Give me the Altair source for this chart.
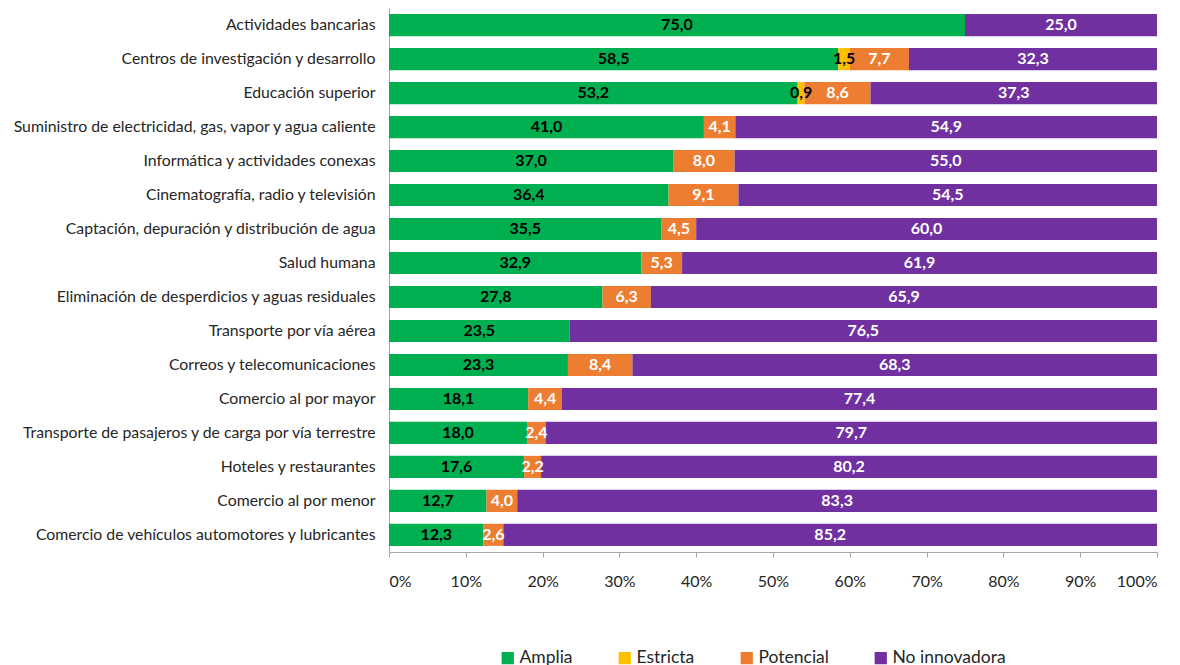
import altair as alt
import pandas as pd

categorias = [
    "Actividades bancarias",
    "Centros de investigación y desarrollo",
    "Educación superior",
    "Suministro de electricidad, gas, vapor y agua caliente",
    "Informática y actividades conexas",
    "Cinematografía, radio y televisión",
    "Captación, depuración y distribución de agua",
    "Salud humana",
    "Eliminación de desperdicios y aguas residuales",
    "Transporte por vía aérea",
    "Correos y telecomunicaciones",
    "Comercio al por mayor",
    "Transporte de pasajeros y de carga por vía terrestre",
    "Hoteles y restaurantes",
    "Comercio al por menor",
    "Comercio de vehículos automotores y lubricantes",
]
amplia = [75.0, 58.5, 53.2, 41.0, 37.0, 36.4, 35.5, 32.9, 27.8, 23.5, 23.3, 18.1, 18.0, 17.6, 12.7, 12.3]
estricta = [0.0, 1.5, 0.9, 0.0, 0.0, 0.0, 0.0, 0.0, 0.0, 0.0, 0.0, 0.0, 0.0, 0.0, 0.0, 0.0]
potencial = [0.0, 7.7, 8.6, 4.1, 8.0, 9.1, 4.5, 5.3, 6.3, 0.0, 8.4, 4.4, 2.4, 2.2, 4.0, 2.6]
no_innovadora = [25.0, 32.3, 37.3, 54.9, 55.0, 54.5, 60.0, 61.9, 65.9, 76.5, 68.3, 77.4, 79.7, 80.2, 83.3, 85.2]

series = ["Amplia", "Estricta", "Potencial", "No innovadora"]
colores = ["#00B050", "#FFC000", "#ED7D31", "#7030A0"]

rows = []
for s_idx, (name, vals) in enumerate(zip(series, [amplia, estricta, potencial, no_innovadora])):
    for c, v in zip(categorias, vals):
        rows.append({"cat": c, "serie": name, "value": v, "idx": s_idx})
df = pd.DataFrame(rows)

FONT = "Lato"

y_enc = alt.Y(
    "cat:N",
    sort=categorias,
    title=None,
    scale=alt.Scale(paddingInner=0.35, paddingOuter=0.18),
    axis=alt.Axis(
        ticks=False,
        domainColor="#A6A6A6",
        labelFont=FONT,
        labelFontSize=15.8,
        labelColor="#262626",
        labelPadding=14,
        labelLimit=420,
        minExtent=381,
        maxExtent=381,
    ),
)

bars = alt.Chart(df).mark_bar().encode(
    y=y_enc,
    x=alt.X(
        "value:Q",
        stack="normalize",
        title=None,
        scale=alt.Scale(domain=[0, 1]),
        axis=alt.Axis(
            format=".0%",
            values=[0, 0.1, 0.2, 0.3, 0.4, 0.5, 0.6, 0.7, 0.8, 0.9, 1.0],
            grid=False,
            domainColor="#A6A6A6",
            tickColor="#A6A6A6",
            tickSize=5,
            labelFont=FONT,
            labelFontSize=16,
            labelColor="#262626",
            labelPadding=16,
        ),
    ),
    color=alt.Color(
        "serie:N",
        scale=alt.Scale(domain=series, range=colores),
        sort=series,
        legend=alt.Legend(
            title=None,
            orient="none",
            direction="horizontal",
            legendX=110,
            legendY=641,
            symbolType="square",
            symbolSize=150,
            symbolStrokeWidth=0,
            labelOffset=3,
            labelFont=FONT,
            labelFontSize=17.5,
            labelColor="#262626",
            columnPadding=43,
        ),
    ),
    order=alt.Order("idx:Q"),
)

labels = (
    alt.Chart(df)
    .transform_filter("datum.value > 0")
    .transform_stack(
        stack="value",
        groupby=["cat"],
        as_=["v0", "v1"],
        offset="normalize",
        sort=[alt.SortField("idx", order="ascending")],
    )
    .transform_calculate(
        mid="(datum.v0 + datum.v1) / 2",
        lbl="replace(format(datum.value, '.1f'), '.', ',')",
        tc="datum.idx < 2 ? '#000000' : '#FFFFFF'",
    )
    .mark_text(font=FONT, fontSize=16, fontWeight="bold")
    .encode(
        y=alt.Y("cat:N", sort=categorias),
        x=alt.X("mid:Q"),
        text="lbl:N",
        color=alt.Color("tc:N", scale=None),
    )
)

chart = (
    alt.layer(bars, labels)
    .properties(width=768, height=544, padding={"left": 0, "top": 0, "right": 5, "bottom": 0})
    .configure_view(stroke=None)
)

chart.save("out.html", embed_options={"renderer": "svg", "actions": False})
